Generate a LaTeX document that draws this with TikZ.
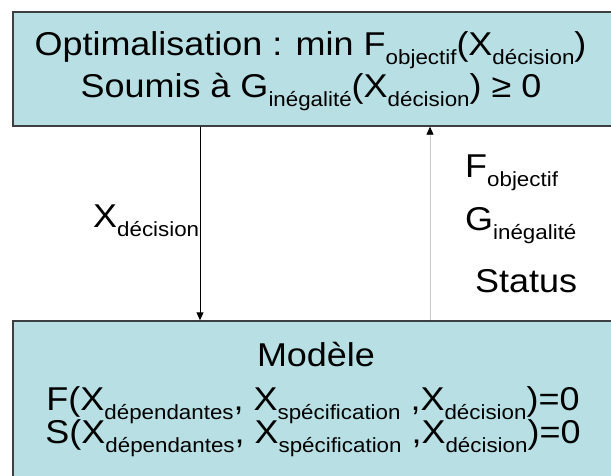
\documentclass[tikz,border=0pt]{standalone}
\usepackage{fontspec}
\setmainfont{Liberation Sans}[FakeStretch=1.09]
\usetikzlibrary{arrows.meta}
\definecolor{boxfill}{RGB}{184,224,228}
\definecolor{boxline}{RGB}{60,64,66}
\definecolor{paleline}{RGB}{200,200,200}
% lowered subscript in text
\newcommand\low[1]{\raisebox{-0.3em}{\fontsize{20.5}{20.5}\selectfont #1}}
\tikzset{
  panel/.style={draw=boxline, line width=1.4pt, fill=boxfill, inner sep=0pt},
  txt/.style={font=\fontsize{33}{33}\selectfont, inner sep=0pt, anchor=base},
  lbl/.style={font=\fontsize{33}{33}\selectfont, inner sep=0pt, anchor=base west},
  flow/.style={line width=1pt, draw=black, -{Triangle[length=8pt,width=7pt]}},
  backflow/.style={line width=0.8pt, draw=paleline, -{Triangle[length=8pt,width=7pt,color=black]}}
}
\begin{document}
\begin{tikzpicture}[x=1pt,y=-1pt]
  \useasboundingbox (0,0) rectangle (611,475);
  \clip (0,0) rectangle (611,475);
  \fill[white] (0,0) rectangle (611,475);

  % optimiser box and model box
  \node[panel, minimum width=607pt, minimum height=114pt] (top) at (316.5,69) {};
  \node[panel, minimum width=607pt, minimum height=169pt] (bot) at (316.5,405.5) {};

  % optimiser text
  \node[txt] (t1) at (310.5,55) {Optimalisation : min F\low{objectif}(X\low{décision})};
  \node[txt] (t2) at (311,97) {Soumis à G\low{inégalité}(X\low{décision}) ≥ 0};

  % model text
  \node[txt] (m0) at (316,366) {Modèle};
  \node[txt] (m1) at (313,410) {F(X\low{dépendantes}, X\low{spécification} ,X\low{décision})=0};
  \node[txt] (m2) at (313,443) {S(X\low{dépendantes}, X\low{spécification} ,X\low{décision})=0};

  % connectors
  \coordinate (xl) at (200,0);
  \coordinate (xr) at (430,0);
  \draw[flow] (top.south -| xl) -- (bot.north -| xl);
  \draw[backflow] (bot.north -| xr) -- (top.south -| xr);

  % connector labels
  \node[lbl] (ld) at (93,227) {X\low{décision}};
  \node[lbl] (lf) at (465,177) {F\low{objectif}};
  \node[lbl] (lg) at (465,230) {G\low{inégalité}};
  \node[lbl] (ls) at (475,292) {Status};
\end{tikzpicture}
\end{document}
